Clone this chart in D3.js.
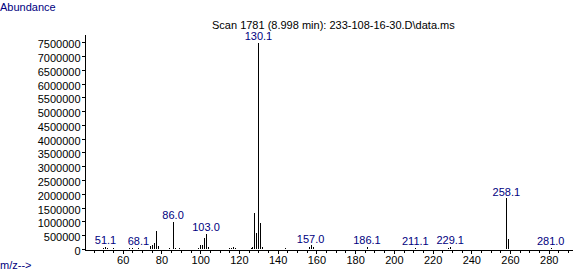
<!DOCTYPE html>
<html>
<head>
<meta charset="utf-8">
<script src="https://cdn.jsdelivr.net/npm/d3@7"></script>
<style>
  body { margin: 0; background: #fff; }
  text { font-family: "Liberation Sans", Arial, sans-serif; }
</style>
</head>
<body>
<div id="chart"></div>
<script>
// spectrum peaks (m/z, abundance)
var peakMz = [50, 51, 52, 55, 63, 65, 68, 74, 75, 76, 77, 78, 84, 86, 87, 89,
              99, 100, 101, 102, 103, 104, 115, 116, 117, 118, 126, 127, 128, 129, 130, 131, 132,
              144, 156, 157, 158, 186, 211, 228, 229, 258, 259, 281];
var peakAbund = [30000, 83000, 40000, 20000, 20000, 25000, 47000, 100000, 150000, 200000, 660000, 110000, 30000, 990000, 50000, 40000,
                 30000, 150000, 160000, 400000, 560000, 60000, 40000, 50000, 80000, 40000, 30000, 70000, 1320000, 580000, 7480000, 940000, 60000,
                 30000, 60000, 145000, 70000, 80000, 45000, 50000, 83000, 1840000, 360000, 45000];

// labelled peaks
var labelMz = [51.1, 68.1, 86.0, 103.0, 130.1, 157.0, 186.1, 211.1, 229.1, 258.1, 281.0];
var labelAbund = [83000, 47000, 990000, 560000, 7480000, 145000, 83000, 47000, 83000, 1840000, 47000];

var yTicks = d3.range(0, 7500001, 500000);
var xLabelTicks = d3.range(60, 281, 20);
var xMinorTicks = d3.range(45, 291, 5);

var title = "Scan 1781 (8.998 min): 233-108-16-30.D\\data.ms";

var width = 585, height = 273;
var svg = d3.select("#chart").append("svg")
    .attr("width", width)
    .attr("height", height);

var x = d3.scaleLinear().domain([40, 292]).range([84, 572]);
var y = d3.scaleLinear().domain([0, 7795000]).range([249, 34]);

var navy = "#000080";

// peaks
svg.append("g")
    .selectAll("line")
    .data(peakMz)
    .enter().append("line")
    .attr("x1", function(d) { return Math.round(x(d)) + 0.5; })
    .attr("x2", function(d) { return Math.round(x(d)) + 0.5; })
    .attr("y1", y(0))
    .attr("y2", function(d, i) { return y(peakAbund[i]); })
    .attr("stroke", "#000")
    .attr("stroke-width", 1)
    .attr("shape-rendering", "crispEdges");

// x axis: minor ticks then labelled ticks
var xMinor = svg.append("g")
    .attr("transform", "translate(0,249.5)")
    .call(d3.axisBottom(x).tickValues(xMinorTicks).tickSize(3).tickSizeOuter(0).tickFormat(""));

var xMajor = svg.append("g")
    .attr("transform", "translate(0,249.5)")
    .call(d3.axisBottom(x).tickValues(xLabelTicks).tickSize(4).tickPadding(3).tickSizeOuter(0));
xMajor.select(".domain").remove();
xMajor.selectAll("text")
    .style("font-family", "Liberation Sans, Arial, sans-serif")
    .style("font-size", "11px")
    .attr("fill", "#000");

// y axis
var yAxis = svg.append("g")
    .attr("transform", "translate(84.5,0)")
    .call(d3.axisLeft(y).tickValues(yTicks).tickSize(3).tickPadding(1).tickSizeOuter(0).tickFormat(d3.format("d")));
yAxis.selectAll("text")
    .attr("dy", "0.5em")
    .style("font-family", "Liberation Sans, Arial, sans-serif")
    .style("font-size", "11px")
    .attr("fill", "#000");
svg.selectAll(".domain, .tick line").attr("shape-rendering", "crispEdges");

// peak labels
svg.append("g")
    .selectAll("text")
    .data(labelMz)
    .enter().append("text")
    .attr("x", function(d) { return x(d); })
    .attr("y", function(d, i) { return y(labelAbund[i]) - 2.5; })
    .attr("text-anchor", "middle")
    .attr("font-size", "11px")
    .attr("fill", navy)
    .text(function(d) { return d.toFixed(1); });

svg.append("text")
    .attr("x", 0).attr("y", 11)
    .attr("font-size", "11px")
    .attr("fill", navy)
    .text("Abundance");

svg.append("text")
    .attr("x", 0).attr("y", 269)
    .attr("font-size", "11px")
    .attr("fill", navy)
    .text("m/z-->");

svg.append("text")
    .attr("x", 212).attr("y", 29)
    .attr("font-size", "11px")
    .attr("fill", "#000")
    .text(title);
</script>
</body>
</html>
